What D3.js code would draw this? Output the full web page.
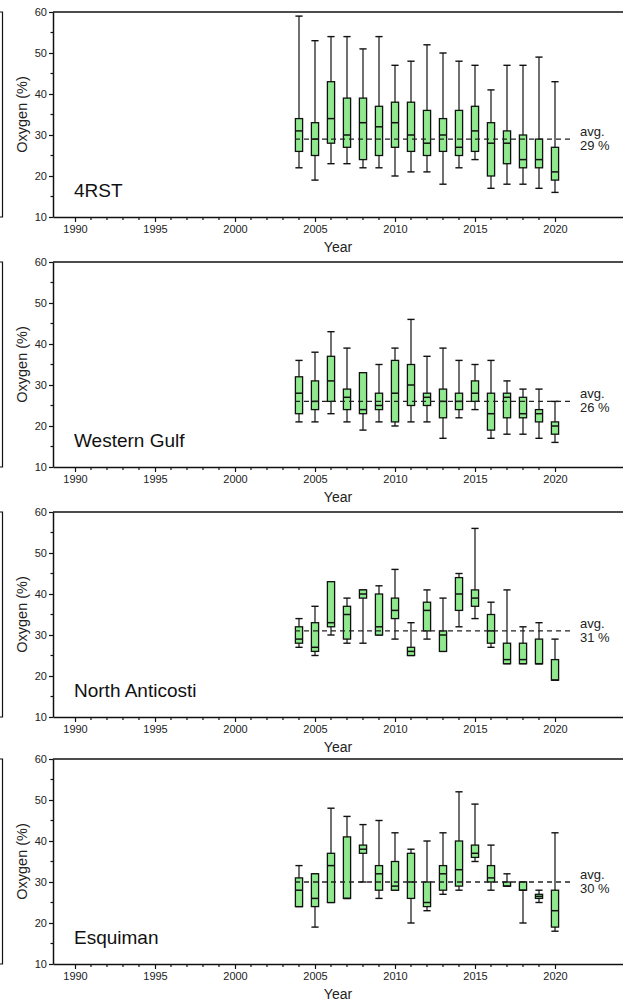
<!DOCTYPE html>
<html><head><meta charset="utf-8">
<script src="https://cdn.jsdelivr.net/npm/d3@7"></script>
<style>
body{margin:0;background:#fff}
svg{display:block;font-family:"Liberation Sans",Arial,sans-serif}
</style>
</head><body>
<svg id="c" width="623" height="1003"></svg>
<script>
// ---- data ----
const years = [2004,2005,2006,2007,2008,2009,2010,2011,2012,2013,2014,2015,2016,2017,2018,2019,2020];
const regions = ["4RST","Western Gulf","North Anticosti","Esquiman"];
const averages = [29,26,31,30];
const xTickLabels = [1990,1995,2000,2005,2010,2015,2020];
const yTickLabels = [10,20,30,40,50,60];

// 4RST
const rstHigh = [59,53,54,54,51,54,47,48,52,50,48,47,41,47,47,49,43];
const rstQ3   = [34,33,43,39,39,37,38,38,36,34,36,37,33,31,30,29,27];
const rstMed  = [31,29,34,30,33,32,33,30,28,30,27,31,28,28,24,24,21];
const rstQ1   = [26,25,28,27,24,25,27,26,25,26,25,26,20,23,22,22,19];
const rstLow  = [22,19,23,23,22,22,20,21,21,18,22,24,17,18,18,17,16];
// Western Gulf
const wgHigh = [36,38,43,39,33,35,39,46,37,39,36,35,36,31,29,29,26];
const wgQ3   = [32,31,37,29,33,28,36,35,28,29,28,31,28,28,27,24,21];
const wgMed  = [28,26,31,27,24,25,28,30,27,26,26,28,23,27,23,23,20];
const wgQ1   = [23,24,26,24,23,24,21,25,25,22,24,26,19,22,22,21,18];
const wgLow  = [21,21,23,21,19,21,20,21,21,17,22,24,17,18,18,17,16];
// North Anticosti
const naHigh = [34,37,43,39,41,42,46,33,41,39,45,56,38,41,32,33,29];
const naQ3   = [32,33,43,37,41,40,39,27,38,31,44,41,35,28,28,29,24];
const naMed  = [29,27,33,35,40,32,36,26,36,30,40,39,31,24,24,23,19];
const naQ1   = [28,26,32,29,39,30,34,25,31,26,36,37,28,23,23,23,19];
const naLow  = [27,25,30,28,28,30,29,25,29,26,32,34,27,23,23,23,19];
// Esquiman
const esHigh = [34,32,48,46,44,45,42,38,40,42,52,49,39,32,30,28,42];
const esQ3   = [31,32,37,41,39,34,35,37,30,34,40,39,34,30,30,27,28];
const esMed  = [28,26,34,26,38,32,29,30,25,32,33,37,31,29,28,26.5,23];
const esQ1   = [24,24,25,26,37,28,28,26,24,28,29,36,30,29,28,26,19];
const esLow  = [24,19,25,26,30,26,28,20,23,27,28,35,28,29,20,25,18];

const highs = [rstHigh, wgHigh, naHigh, esHigh];
const q3s = [rstQ3, wgQ3, naQ3, esQ3];
const meds = [rstMed, wgMed, naMed, esMed];
const q1s = [rstQ1, wgQ1, naQ1, esQ1];
const lows = [rstLow, wgLow, naLow, esLow];

// ---- layout ----
const panelTops = [12, 262, 512, 759];
const H = 205;
const svg = d3.select("#c");
const x = d3.scaleLinear().domain([1988.625, 2024.25]).range([53, 623]);
const boxW = 0.45;
const ink = "#111";

regions.forEach((name, i) => {
  const g = svg.append("g").attr("transform", `translate(0,${panelTops[i]})`);
  const y = d3.scaleLinear().domain([10, 60]).range([H, 0]);

  // left-edge fragment of neighbouring frame
  g.append("path").attr("d", `M0,0H2.5V${H}H0`).attr("fill", "none").attr("stroke", ink).attr("stroke-width", 1.2);

  // top frame line
  g.append("line").attr("x1", 53).attr("x2", 623).attr("y1", 0).attr("y2", 0)
    .attr("stroke", ink).attr("stroke-width", 1.5);

  // x axis
  const xa = g.append("g").attr("transform", `translate(0,${H})`)
    .call(d3.axisBottom(x).tickValues(xTickLabels).tickFormat(d3.format("d")).tickSize(5).tickSizeOuter(0).tickPadding(3));
  xa.select(".domain").attr("stroke", ink).attr("stroke-width", 1.5);
  xa.selectAll(".tick line").attr("stroke", ink).attr("stroke-width", 1.2);
  xa.selectAll("text").attr("font-size", 11).attr("fill", "#222").attr("font-family", "Liberation Sans, Arial, sans-serif");
  const minorX = d3.range(1990, 2021).filter(v => v % 5 !== 0);
  xa.selectAll(".minor").data(minorX).enter().append("line")
    .attr("x1", d => x(d)).attr("x2", d => x(d)).attr("y1", 0).attr("y2", 3)
    .attr("stroke", ink).attr("stroke-width", 1.2);

  // y axis
  const ya = g.append("g").attr("transform", `translate(53,0)`)
    .call(d3.axisLeft(y).tickValues(yTickLabels).tickSize(4).tickSizeOuter(0).tickPadding(2));
  ya.select(".domain").attr("stroke", ink).attr("stroke-width", 1.5);
  ya.selectAll(".tick line").attr("stroke", ink).attr("stroke-width", 1.2);
  ya.selectAll("text").attr("font-size", 11).attr("fill", "#222").attr("font-family", "Liberation Sans, Arial, sans-serif");
  ya.selectAll(".minor").data([15,25,35,45,55]).enter().append("line")
    .attr("x1", 0).attr("x2", -2.5).attr("y1", d => y(d)).attr("y2", d => y(d))
    .attr("stroke", ink).attr("stroke-width", 1.2);

  // axis titles
  g.append("text").attr("transform", `translate(27,${H/2}) rotate(-90)`)
    .attr("text-anchor", "middle").attr("font-size", 14.5).attr("fill", "#222").text("Oxygen (%)");
  g.append("text").attr("x", 338).attr("y", H + 35).attr("text-anchor", "middle")
    .attr("font-size", 14).attr("fill", "#222").text("Year");

  // region label
  g.append("text").attr("x", 74).attr("y", H - 20).attr("font-size", 19).attr("fill", "#111").text(name);

  // boxes
  const data = years.map((yr, k) => ({yr, hi: highs[i][k], q3: q3s[i][k], med: meds[i][k], q1: q1s[i][k], lo: lows[i][k]}));
  const bx = g.append("g");
  bx.selectAll(".wh").data(data).enter().append("line")
    .attr("x1", d => x(d.yr)).attr("x2", d => x(d.yr)).attr("y1", d => y(d.hi)).attr("y2", d => y(d.lo))
    .attr("stroke", ink).attr("stroke-width", 1.2);
  ["hi","lo"].forEach(key => {
    bx.selectAll(".cap-" + key).data(data).enter().append("line")
      .attr("x1", d => x(d.yr - boxW/2)).attr("x2", d => x(d.yr + boxW/2))
      .attr("y1", d => y(d[key])).attr("y2", d => y(d[key]))
      .attr("stroke", ink).attr("stroke-width", 1.4);
  });
  bx.selectAll(".box").data(data).enter().append("rect")
    .attr("x", d => x(d.yr - boxW/2)).attr("width", d => x(d.yr + boxW/2) - x(d.yr - boxW/2))
    .attr("y", d => y(d.q3)).attr("height", d => Math.max(0.5, y(d.q1) - y(d.q3)))
    .attr("fill", "#8fea8f").attr("stroke", ink).attr("stroke-width", 1.3);
  bx.selectAll(".med").data(data).enter().append("line")
    .attr("x1", d => x(d.yr - boxW/2)).attr("x2", d => x(d.yr + boxW/2))
    .attr("y1", d => y(d.med)).attr("y2", d => y(d.med))
    .attr("stroke", ink).attr("stroke-width", 1.5);

  // average dashed line
  g.append("line").attr("x1", x(2003.75)).attr("x2", x(2021.15))
    .attr("y1", y(averages[i])).attr("y2", y(averages[i]))
    .attr("stroke", "#222").attr("stroke-width", 1.3).attr("stroke-dasharray", "5,4");
  g.append("text").attr("x", 580).attr("y", y(averages[i]) - 3).attr("font-size", 13).attr("fill", "#222").text("avg.");
  g.append("text").attr("x", 580).attr("y", y(averages[i]) + 11).attr("font-size", 13).attr("fill", "#222").text(averages[i] + " %");
});
</script>
</body></html>
